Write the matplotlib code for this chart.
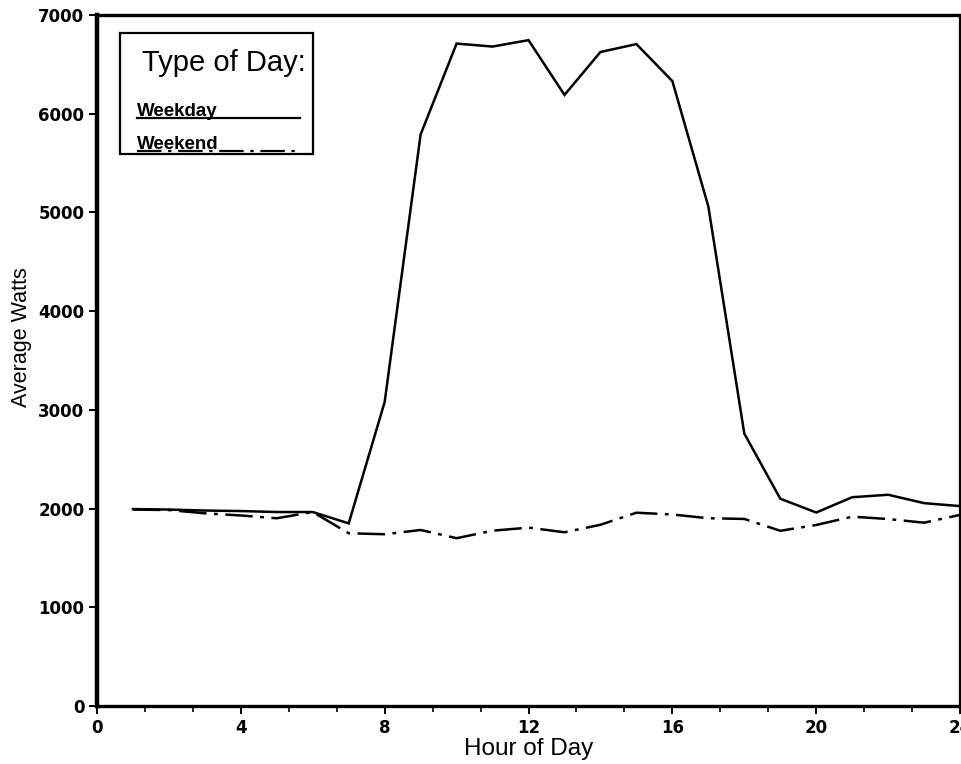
import numpy as np
import matplotlib.pyplot as plt
from matplotlib.lines import Line2D
from matplotlib.patches import Rectangle
from matplotlib.ticker import MultipleLocator

# average load profile by hour
hours = list(range(1, 25))
weekday_watts = [1995, 1990, 1980, 1975, 1965, 1965, 1850, 3080, 5790, 6710,
                 6680, 6745, 6190, 6625, 6705, 6330, 5060, 2760, 2100, 1960,
                 2115, 2140, 2055, 2025]
weekend_watts = [1990, 1985, 1952, 1930, 1902, 1965, 1750, 1740, 1783, 1700,
                 1776, 1807, 1760, 1836, 1958, 1940, 1902, 1895, 1775, 1834,
                 1918, 1894, 1857, 1936]
legend_title = 'Type of Day:'
series_names = ['Weekday', 'Weekend']

WEEKEND_DASHES = (11, 3, 1.5, 3)

fig = plt.figure(figsize=(9.62, 7.64), dpi=100)
ax = fig.add_axes([0.1008, 0.0759, 0.8972, 0.9045])

ax.plot(hours, weekday_watts, color='black', linewidth=1.8, solid_joinstyle='miter')
ax.plot(hours, weekend_watts, color='black', linewidth=1.8, dashes=WEEKEND_DASHES)

ax.set_xlim(0, 24)
ax.set_ylim(0, 7000)
ax.xaxis.set_major_locator(MultipleLocator(4))
ax.xaxis.set_minor_locator(MultipleLocator(4 / 3))
ax.yaxis.set_major_locator(MultipleLocator(1000))

for side, w in [('left', 3.2), ('bottom', 2.4), ('top', 2.4), ('right', 1.6)]:
    ax.spines[side].set_linewidth(w)

ax.tick_params(axis='both', which='major', direction='out', length=6, width=1.4,
               labelsize=12, pad=3)
ax.tick_params(axis='x', which='minor', direction='out', length=4, width=1.2)
for lbl in ax.get_xticklabels() + ax.get_yticklabels():
    lbl.set_fontweight('bold')
    lbl.set_family('DejaVu Sans')

ax.set_xlabel('Hour of Day', family='Liberation Sans', fontsize=17.5, labelpad=1)
ax.set_ylabel('Average Watts', family='Liberation Sans', fontsize=15.5)
ax.yaxis.set_label_coords(-0.075, 0.534)

# hand-drawn style legend: label text sitting on top of its line sample
ax.add_patch(Rectangle((0.0267, 0.799), 0.2235, 0.1745, transform=ax.transAxes,
                       fill=False, edgecolor='black', linewidth=1.6, zorder=5))
ax.text(0.052, 0.930, legend_title, transform=ax.transAxes, family='Liberation Sans',
        fontsize=21, va='center', ha='left', zorder=6)
ax.text(0.046, 0.861, series_names[0], transform=ax.transAxes, family='Liberation Sans',
        fontsize=13.5, fontweight='bold', va='center', ha='left', zorder=6)
ax.text(0.046, 0.813, series_names[1], transform=ax.transAxes, family='Liberation Sans',
        fontsize=13.5, fontweight='bold', va='center', ha='left', zorder=6)
ax.add_line(Line2D([0.046, 0.235], [0.851, 0.851], transform=ax.transAxes,
                   color='black', linewidth=1.6, zorder=6))
ax.add_line(Line2D([0.046, 0.235], [0.803, 0.803], transform=ax.transAxes,
                   color='black', linewidth=1.6, dashes=WEEKEND_DASHES, zorder=6))

fig.savefig('out.png', dpi=100)
